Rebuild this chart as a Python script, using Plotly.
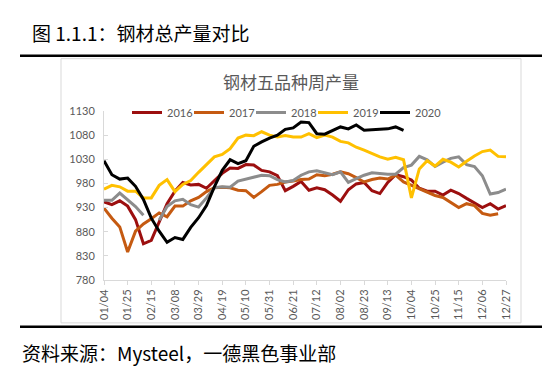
import plotly.graph_objects as go

# ---------------- data ----------------
weeks = ["01/04", "01/11", "01/18", "01/25", "02/01", "02/08", "02/15", "02/22",
         "03/01", "03/08", "03/15", "03/22", "03/29", "04/05", "04/12", "04/19",
         "04/26", "05/03", "05/10", "05/17", "05/24", "05/31", "06/07", "06/14",
         "06/21", "06/28", "07/05", "07/12", "07/19", "07/26", "08/02", "08/09",
         "08/16", "08/23", "08/30", "09/06", "09/13", "09/20", "09/27", "10/04",
         "10/11", "10/18", "10/25", "11/01", "11/08", "11/15", "11/22", "11/29",
         "12/06", "12/13", "12/20", "12/27"]
tick_labels = ["01/04", "01/25", "02/15", "03/08", "03/29", "04/19", "05/10", "05/31",
               "06/21", "07/12", "08/02", "08/23", "09/13", "10/04", "10/25", "11/15",
               "12/06", "12/27"]
y_ticks = [780, 830, 880, 930, 980, 1030, 1080, 1130]

s2016 = [942, 936, 944, 933, 905, 855, 862, 902, 938, 964, 982, 977, 978, 970, 985, 1001,
         1012, 1011, 1019, 1018, 1007, 1004, 996, 965, 974, 984, 966, 971, 967, 956, 943, 967,
         979, 982, 965, 959, 982, 998, 994, 987, 970, 964, 964, 956, 966, 959, 949, 939,
         930, 938, 927, 934]
s2017 = [929, 908, 890, 838, 881, 896, 907, 919, 911, 933, 933, 944, 951, 963, 971, 972,
         971, 966, 965, 951, 963, 976, 978, 983, 985, 988, 989, 998, 996, 999, 1004, 1000,
         992, 983, 988, 991, 989, 997, 983, 976, 969, 963, 955, 951, 940, 930, 938, 934,
         918, 914, 917, None]
s2018 = [945, 945, 960, 946, 932, 914, None, 904, 932, 944, 947, 936, 931, 950, 971, 973,
         972, 985, 989, 993, 997, 996, 988, 983, 986, 997, 1004, 1006, 1002, 998, 1004, 982,
         990, 997, 1002, 1000, 999, 999, 1013, 1018, 1036, 1029, 1015, 1024, 1032, 1035, 1019, 1015,
         996, 958, 961, 968]
s2019 = [968, 976, 973, 964, 964, 950, 950, 976, 988, 963, 978, 986, 1003, 1020, 1035, 1040,
         1052, 1074, 1080, 1079, 1087, 1080, 1076, 1079, 1076, 1076, 1083, 1075, 1080, 1076, 1067, 1064,
         1055, 1049, 1042, 1035, 1030, 1034, 1029, 950, 1010, 1027, 1016, 1030, 1024, 1014, 1026, 1037,
         1046, 1049, 1036, 1035]
s2020 = [1027, 998, 989, 991, 974, 947, 908, 881, 858, 868, 864, 889, 909, 934, 973, 1007,
         1029, 1021, 1027, 1057, 1066, 1074, 1080, 1092, 1095, 1107, 1106, 1083, 1082, 1089, 1097, 1093,
         1101, 1090, 1091, 1093, 1093, 1097, 1090]

series_names = ["2016", "2017", "2018", "2019", "2020"]
series_values = [s2016, s2017, s2018, s2019, s2020]
series_colors = ["#9C0F0F", "#C55A11", "#8C8C8C", "#FFC000", "#000000"]

# ---------------- layout geometry (pixels) ----------------
W, H = 550, 370
L, R, T, B = 96, 498, 102.5, 272


def fx(px):
    return (px - L) / (R - L)


def fy(py):
    return (B - py) / (B - T)


fig = go.Figure()
for name, vals, color in zip(series_names, series_values, series_colors):
    fig.add_trace(go.Scatter(
        x=weeks[:len(vals)], y=vals, name=name, mode="lines",
        line=dict(color=color, width=3), connectgaps=False,
        hoverinfo="x+y+name"))

# empty, invisible legend entry so the last real legend label is not clipped
fig.add_trace(go.Scatter(x=[None], y=[None], name=" ", mode="lines",
                         line=dict(color="rgba(0,0,0,0)", width=0),
                         hoverinfo="skip", showlegend=True))

axis_font = dict(family="Lato, 'Noto Sans', sans-serif", size=11, color="#595959")

fig.update_layout(
    width=W, height=H,
    margin=dict(l=L, r=W - R, t=T, b=H - B, pad=0),
    paper_bgcolor="white", plot_bgcolor="white",
    showlegend=True,
    legend=dict(orientation="h", x=fx(119), y=fy(104), xanchor="left", yanchor="middle",
                font=axis_font, bgcolor="rgba(0,0,0,0)", itemwidth=30,
                entrywidth=17, entrywidthmode="pixels", traceorder="normal",
                itemclick=False, itemdoubleclick=False),
    xaxis=dict(type="category", categoryorder="array", categoryarray=weeks,
               range=[0, len(weeks) - 1], tickmode="array", tickvals=tick_labels,
               ticktext=tick_labels, tickangle=-90, ticks="outside", ticklen=4,
               tickcolor="#D9D9D9", showline=True, linecolor="#D9D9D9", linewidth=1,
               showgrid=False, zeroline=False, tickfont=axis_font),
    yaxis=dict(range=[y_ticks[0], y_ticks[-1]], tickmode="array", tickvals=y_ticks,
               ticks="inside", ticklen=4, tickcolor="#D9D9D9", showline=True,
               linecolor="#D9D9D9", linewidth=1, showgrid=False, zeroline=False,
               tickfont=axis_font, ticklabelstandoff=6),
    shapes=[
        dict(type="rect", xref="paper", yref="paper", x0=fx(53), x1=fx(513),
             y0=fy(315), y1=fy(50), line=dict(color="#D9D9D9", width=1), layer="below"),
        dict(type="line", xref="paper", yref="paper", x0=fx(12), x1=fx(541),
             y0=fy(47), y1=fy(47), line=dict(color="#000000", width=2.5)),
        dict(type="line", xref="paper", yref="paper", x0=fx(12), x1=fx(541),
             y0=fy(319), y1=fy(319), line=dict(color="#000000", width=2.5)),
    ],
    annotations=[
        dict(text="图 1.1.1：钢材总产量对比", xref="paper", yref="paper", x=fx(22), y=fy(24),
             xanchor="left", yanchor="middle", showarrow=False,
             font=dict(family="'Noto Sans CJK SC', sans-serif", size=19, color="#000000")),
        dict(text="钢材五品种周产量", xref="paper", yref="paper", x=fx(283), y=fy(73),
             xanchor="center", yanchor="middle", showarrow=False,
             font=dict(family="'Noto Sans CJK SC', sans-serif", size=17, color="#595959")),
        dict(text="资料来源：Mysteel，一德黑色事业部", xref="paper", yref="paper", x=fx(12), y=fy(345),
             xanchor="left", yanchor="middle", showarrow=False,
             font=dict(family="'Noto Sans CJK SC', sans-serif", size=19, color="#000000")),
    ],
)

fig.write_html("out.html", config={"displayModeBar": False})
